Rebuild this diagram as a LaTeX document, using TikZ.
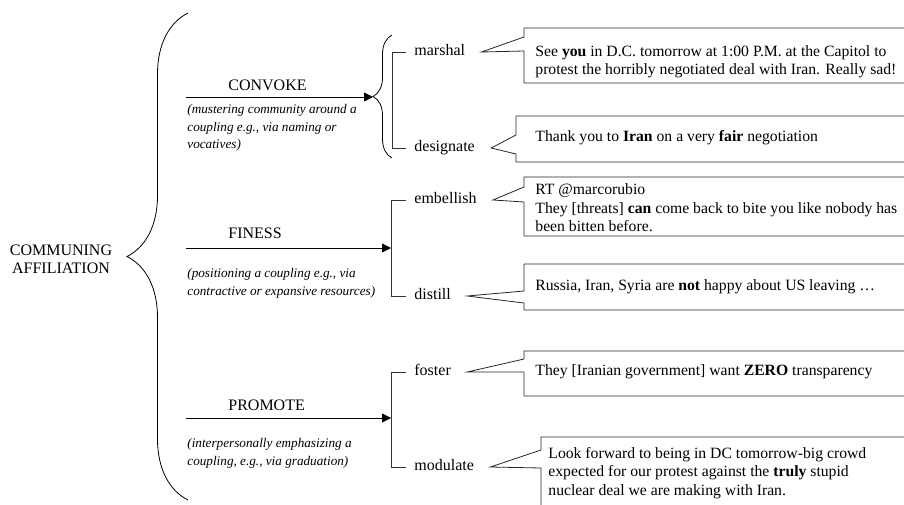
\documentclass[tikz,border=0pt]{standalone}
\usepackage{fontspec}
\setmainfont{Liberation Serif}
\usetikzlibrary{positioning,arrows.meta,decorations.pathreplacing}

\begin{document}
\begin{tikzpicture}[x=1pt, y=-1pt,
  line width=0.8pt,
  cat/.style={font=\fontsize{16}{18}\selectfont, inner sep=0pt},
  gloss/.style={font=\fontsize{13.2}{17.5}\selectfont\itshape, align=left, inner sep=0pt, anchor=north west},
  term/.style={font=\fontsize{16}{18}\selectfont, text height=11pt, text depth=3.5pt, inner sep=2pt, anchor=west},
  tweet/.style={font=\fontsize{15.7}{18.5}\selectfont, align=left, inner sep=0pt, anchor=west},
  arr/.style={-{Triangle[length=9pt,width=9pt]}},
  bracket/.style={draw=black!80},
  bubble/.style={draw=black!85},
  bigbrace/.style={decorate, decoration={brace, amplitude=#1}}]

\useasboundingbox (0,0) rectangle (904,505);
\clip (0,0) rectangle (904,505);

% root of the system
\node[cat, align=center] (root) at (61,259) {COMMUNING\\AFFILIATION};
\draw[bigbrace=61pt] (188,500) -- (188,13);

% convoke
\node[cat, anchor=west] (convoke) at (228,85) {CONVOKE};
\node[gloss] (convokeG) at (187,104) {(mustering community around a\\coupling e.g., via naming or\\vocatives)};
\coordinate (convokeA) at (186,97);
\coordinate (convokeT) at (373,97);
\draw[arr] (convokeA) -- (convokeT);
\draw[bigbrace=19pt] (392,158) -- (392,35);
\node[term] (marshal) at (412,52) {marshal};
\node[term] (designate) at (412,148) {designate};
\draw[bracket] ([xshift=-6pt]marshal.west) -- ++(-14pt,0) |- ([xshift=-6pt]designate.west);

% finess
\node[cat, anchor=west] (finess) at (228,233) {FINESS};
\node[gloss] (finessG) at (187,268) {(positioning a coupling e.g., via\\contractive or expansive resources)};
\coordinate (finessA) at (186,248);
\coordinate (finessT) at (391,248);
\draw[arr] (finessA) -- (finessT);
\node[term] (embellish) at (412,200) {embellish};
\node[term] (distill) at (412,296) {distill};
\draw[bracket] ([xshift=-6pt]embellish.west) -- ++(-15pt,0) |- ([xshift=-6pt]distill.west);

% promote
\node[cat, anchor=west] (promote) at (228,405) {PROMOTE};
\node[gloss] (promoteG) at (187,438) {(interpersonally emphasizing a\\coupling, e.g., via graduation)};
\coordinate (promoteA) at (186,418);
\coordinate (promoteT) at (391,418);
\draw[arr] (promoteA) -- (promoteT);
\node[term] (foster) at (412,372) {foster};
\node[term] (modulate) at (412,467) {modulate};
\draw[bracket] ([xshift=-6pt]foster.west) -- ++(-15pt,0) |- ([xshift=-6pt]modulate.west);

% tweets
\node[tweet] (marshalT) at (535,61.5) {See \textbf{you} in D.C. tomorrow at 1:00 P.M. at the Capitol to\\protest the horribly negotiated deal with Iran. Really sad!};
\node[tweet] (designateT) at (535,138) {Thank you to \textbf{Iran} on a very \textbf{fair} negotiation};
\node[tweet] (embellishT) at (535,208) {RT @marcorubio\\They [threats] \textbf{can} come back to bite you like nobody has\\been bitten before.};
\node[tweet] (distillT) at (535,287) {Russia, Iran, Syria are \textbf{not} happy about US leaving …};
\node[tweet] (fosterT) at (535,372) {They [Iranian government] want \textbf{ZERO} transparency};
\node[tweet] (modulateT) at (548,473) {Look forward to being in DC tomorrow-big crowd\\expected for our protest against the \textbf{truly} stupid\\nuclear deal we are making with Iran.};

% callout outlines
\foreach \bx/\btop/\bbot/\nup/\nlow/\who in {524/28/83/37/51/marshal, 516/116/162/135/154/designate, 524/177/236/187/202/embellish, 524/264/310/291/303/distill, 524/351/396/359/372/foster, 541/437/520/450/468/modulate}
  \draw[bubble] (920,\btop) -- (\bx,\btop) -- (\bx,\nup) -- ([xshift=14pt]\who.east) -- (\bx,\nlow) -- (\bx,\bbot) -- (920,\bbot);

\end{tikzpicture}
\end{document}
